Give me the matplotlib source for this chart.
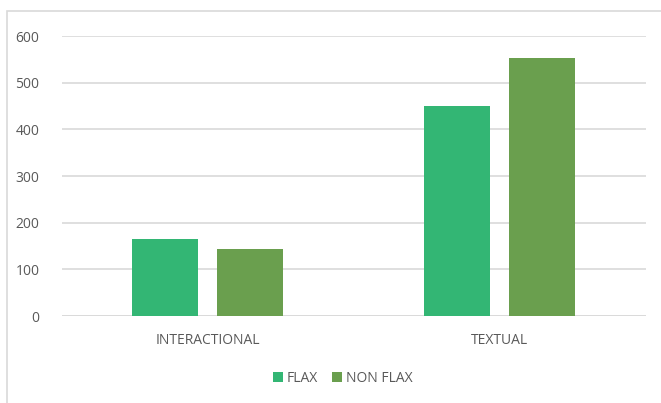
import numpy as np
import matplotlib.pyplot as plt
from matplotlib.patches import Rectangle

categories = ["INTERACTIONAL", "TEXTUAL"]
flax = [164, 451]
non_flax = [144, 553]
series_names = ["FLAX", "NON FLAX"]
y_ticks = [0, 100, 200, 300, 400, 500, 600]

FLAX_COLOR = "#33b674"
NON_FLAX_COLOR = "#6a9f4e"
TEXT_COLOR = "#595959"
GRID_COLOR = "#d9d9d9"

plt.rcParams["font.family"] = ["Open Sans", "DejaVu Sans"]

fig = plt.figure(figsize=(6.61, 4.03), dpi=100)
W, H = 661, 403

# рамка области диаграммы (видны только верх и левый край)
fig.patches.append(Rectangle((7 / W, -0.1), 1.2, (H - 11) / H + 0.1,
                             transform=fig.transFigure, fill=False,
                             edgecolor="#d9d9d9", linewidth=1.2))

ax = fig.add_axes([61.6 / W, 1 - 316 / H, (646 - 61.6) / W, (316 - 36) / H])

x = np.arange(len(categories))
width = 0.226
gap = 0.065
ax.bar(x - (width + gap) / 2, flax, width, color=FLAX_COLOR, label=series_names[0], zorder=3)
ax.bar(x + (width + gap) / 2, non_flax, width, color=NON_FLAX_COLOR, label=series_names[1], zorder=3)

ax.set_xlim(-0.5, 1.5)
ax.set_ylim(0, 600)
ax.set_yticks(y_ticks)
ax.set_xticks(x)
ax.set_xticklabels(categories)
ax.grid(axis="y", color=GRID_COLOR, linewidth=1.2, zorder=0)
ax.axhline(0, color=GRID_COLOR, linewidth=1.2, zorder=2)
for s in ax.spines.values():
    s.set_visible(False)
ax.tick_params(axis="both", length=0, colors=TEXT_COLOR, labelsize=10)
ax.tick_params(axis="x", pad=12)
ax.tick_params(axis="y", pad=16)

fig.legend(loc="center", bbox_to_anchor=(343 / W, 1 - 378 / H), ncol=2,
           frameon=False, handlelength=0.7, handleheight=0.7,
           handletextpad=0.3, columnspacing=1.0, fontsize=10,
           labelcolor=TEXT_COLOR)

fig.savefig("out.png", dpi=100)
